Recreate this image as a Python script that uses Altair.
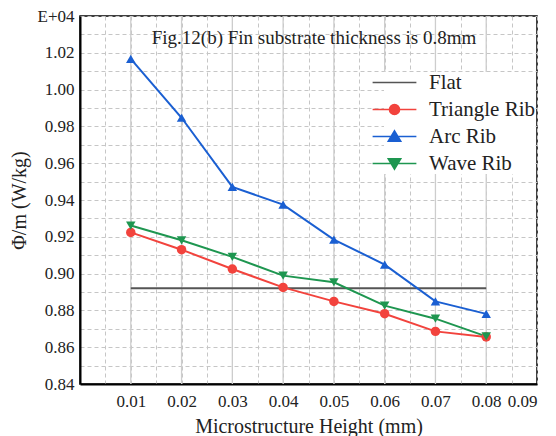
import altair as alt
import pandas as pd

heights = [0.01, 0.02, 0.03, 0.04, 0.05, 0.06, 0.07, 0.08]
triangle = [0.9224, 0.9130, 0.9025, 0.8925, 0.8849, 0.8782, 0.8686, 0.8656]
arc = [1.0167, 0.9847, 0.9471, 0.9375, 0.9185, 0.9049, 0.8849, 0.8781]
wave = [0.9261, 0.9181, 0.9091, 0.8989, 0.8953, 0.8826, 0.8755, 0.8659]
flat_x = [0.01, 0.08]
flat_y = [0.892, 0.892]
major_x = [0.01, 0.02, 0.03, 0.04, 0.05, 0.06, 0.07, 0.08]

series_names = ["Flat", "Triangle Rib", "Arc Rib", "Wave Rib"]
series_colors = ["#555555", "#F2433D", "#1A5FD2", "#1E9650"]
title_text = "Fig.12(b) Fin substrate thickness is 0.8mm"

rows = []
for x, y in zip(flat_x, flat_y):
    rows.append({"series": "Flat", "h": x, "v": y})
for name, vals in [("Triangle Rib", triangle), ("Arc Rib", arc), ("Wave Rib", wave)]:
    for x, y in zip(heights, vals):
        rows.append({"series": name, "h": x, "v": y})
df = pd.DataFrame(rows)

FONT = "Times New Roman, Liberation Serif, serif"

x_vals = [round(i * 0.005, 3) for i in range(0, 19)]
y_vals = [round(0.84 + i * 0.01, 2) for i in range(0, 21)]

xscale = alt.Scale(domain=[0, 0.09], nice=False, zero=False)
yscale = alt.Scale(domain=[0.84, 1.04], nice=False, zero=False)

xaxis = alt.Axis(
    values=x_vals,
    labelExpr="(datum.value > 0.001 && abs(round(datum.value*1000) % 10) < 0.5) ? format(datum.value, '.2f') : ''",
    labelOverlap=False,
    title="Microstructure Height (mm)",
    titleFont=FONT, titleFontSize=20, titleFontWeight="normal", titleColor="#222",
    titlePadding=7,
    labelFont=FONT, labelFontSize=17, labelColor="#222", labelPadding=9,
    ticks=False,
    domainColor="black", domainWidth=2,
    grid=True,
    gridColor="#c6c6c6",
    gridOpacity=1,
    gridWidth=1,
    gridDash=[4, 3],
)
yaxis = alt.Axis(
    values=y_vals,
    labelExpr="datum.value > 1.035 ? 'E+04' : (abs(round(datum.value*100) % 2) < 0.5 ? format(datum.value, '.2f') : '')",
    labelOverlap=False,
    title="Φ/m (W/kg)",
    titleFont=FONT, titleFontSize=20, titleFontWeight="normal", titleColor="#222",
    titlePadding=8,
    labelFont=FONT, labelFontSize=17, labelColor="#222", labelPadding=6,
    ticks=False,
    domainColor="black", domainWidth=2,
    grid=True,
    gridColor="#c6c6c6",
    gridOpacity=1,
    gridWidth=1,
    gridDash=[4, 3],
)

X = alt.X("h:Q", scale=xscale, axis=xaxis)
Y = alt.Y("v:Q", scale=yscale, axis=yaxis)

base = alt.Chart(df)

major_grid = alt.Chart(pd.DataFrame({"h": major_x})).mark_rule(color="#cdcdcd", strokeWidth=1.3).encode(
    x=X
)

lines = base.mark_line(strokeWidth=2).encode(
    x=X, y=Y,
    color=alt.Color("series:N", scale=alt.Scale(domain=series_names, range=series_colors), legend=None),
    detail="series:N",
)

points = base.transform_filter("datum.series != 'Flat'").mark_point(filled=True, opacity=1, size=90).encode(
    x=X, y=Y,
    color=alt.Color("series:N", scale=alt.Scale(domain=series_names, range=series_colors), legend=None),
    shape=alt.Shape("series:N", scale=alt.Scale(domain=["Triangle Rib", "Arc Rib", "Wave Rib"],
                                                 range=["circle", "triangle-up", "triangle-down"]), legend=None),
)

legend_paths = [
    "M-3.7,0H3.7",
    "M-3.7,0H3.7M0.85,0A0.85,0.85,0,1,1,-0.85,0A0.85,0.85,0,1,1,0.85,0Z",
    "M-3.7,0H3.7M0,-0.95L1.05,0.8L-1.05,0.8Z",
    "M-3.7,0H3.7M0,0.95L1.05,-0.8L-1.05,-0.8Z",
]

legend = alt.Legend(
    title=None, orient="none", legendX=304, legendY=56,
    labelFont=FONT, labelFontSize=21, labelColor="#222",
    symbolSize=140, symbolStrokeWidth=1.6, labelOffset=24, rowPadding=5,
    fillColor="white",
)

dummy = base.transform_filter("false").mark_point(filled=True, opacity=1).encode(
    x=X, y=Y,
    fill=alt.Fill("series:N", scale=alt.Scale(domain=series_names, range=series_colors), legend=legend),
    stroke=alt.Stroke("series:N", scale=alt.Scale(domain=series_names, range=series_colors), legend=legend),
    shape=alt.Shape("series:N", scale=alt.Scale(domain=series_names, range=legend_paths), legend=legend),
)

title_mark = alt.Chart(pd.DataFrame({"t": [title_text]})).mark_text(
    font=FONT, fontSize=19, color="#222", align="center", baseline="middle"
).encode(text="t:N", x=alt.value(234), y=alt.value(22))

chart = alt.layer(major_grid, lines, points, dummy, title_mark).resolve_scale(
    shape="independent", fill="independent", stroke="independent"
).properties(
    width=457, height=368,
    padding={"left": 80, "top": 16, "right": 19, "bottom": 52},
    autosize="none",
    background="white",
).configure_view(stroke="black", strokeWidth=1.5)

chart.save("out.html", embed_options={"renderer": "svg", "actions": False})
